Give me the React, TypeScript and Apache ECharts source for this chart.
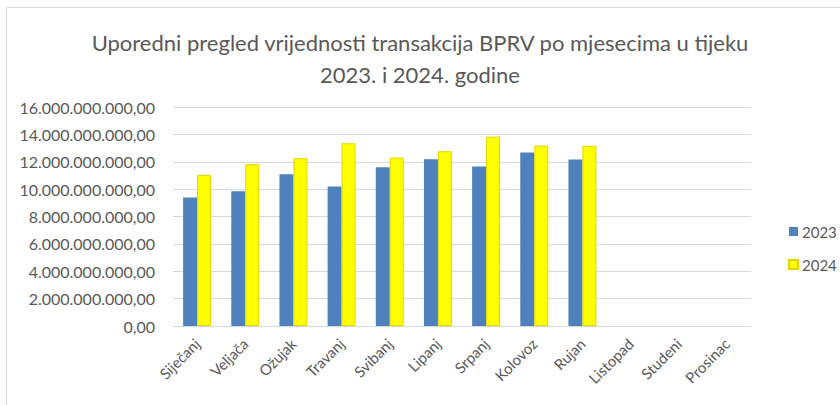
import React, { useEffect, useRef } from "react";
import * as echarts from "echarts";

const months = ["Siječanj", "Veljača", "Ožujak", "Travanj", "Svibanj", "Lipanj", "Srpanj", "Kolovoz", "Rujan", "Listopad", "Studeni", "Prosinac"];
const values2023: (number | null)[] = [9.39e9, 9.85e9, 11.09e9, 10.19e9, 11.6e9, 12.18e9, 11.65e9, 12.67e9, 12.16e9, null, null, null];
const values2024: (number | null)[] = [11.04e9, 11.82e9, 12.26e9, 13.35e9, 12.31e9, 12.77e9, 13.84e9, 13.18e9, 13.16e9, null, null, null];
const titleText = "Uporedni pregled vrijednosti transakcija BPRV po mjesecima u tijeku\n2023. i 2024. godine";

const FONT = "Lato";
const TEXT = "#595959";

function fmt(v: number): string {
  const s = Math.round(v).toString().replace(/\B(?=(\d{3})+(?!\d))/g, ".");
  return s + ",00";
}

export default function App() {
  const ref = useRef<HTMLDivElement>(null);
  useEffect(() => {
    if (!ref.current) return;
    const chart = echarts.init(ref.current, null, { renderer: "svg" });
    chart.setOption({
      animation: false,
      backgroundColor: "#ffffff",
      textStyle: { fontFamily: FONT, color: TEXT },
      title: {
        text: titleText,
        left: "center",
        top: 21,
        textStyle: { fontFamily: FONT, fontSize: 22, fontWeight: "normal", color: TEXT, lineHeight: 32 },
      },
      legend: {
        orient: "vertical",
        left: 783,
        top: 219,
        itemWidth: 9,
        itemHeight: 9,
        itemGap: 18,
        icon: "rect",
        textStyle: { fontFamily: FONT, fontSize: 15, color: TEXT, padding: [0, 0, 0, -1] },
        data: ["2023", "2024"],
      },
      grid: { left: 173, right: 89, top: 107, bottom: 79, containLabel: false },
      xAxis: {
        type: "category",
        data: months,
        boundaryGap: true,
        axisLine: { lineStyle: { color: "#D9D9D9", width: 1 } },
        axisTick: { show: false },
        axisLabel: { rotate: 45, fontFamily: FONT, fontSize: 15, color: TEXT, margin: 15, interval: 0 },
      },
      yAxis: {
        type: "value",
        min: 0,
        max: 16e9,
        interval: 2e9,
        axisLine: { show: false },
        axisTick: { show: false },
        splitLine: { lineStyle: { color: "#D9D9D9", width: 1 } },
        axisLabel: { formatter: (v: number) => fmt(v), fontFamily: FONT, fontSize: 16, color: TEXT, margin: 18 },
      },
      series: [
        {
          name: "2023",
          type: "bar",
          data: values2023,
          barGap: "0%",
          barCategoryGap: "42%",
          itemStyle: { color: "#4F81BD" },
        },
        {
          name: "2024",
          type: "bar",
          data: values2024,
          itemStyle: { color: "#FFFF00", borderColor: "#E2D400", borderWidth: 1 },
        },
      ],
      graphic: [
        { type: "line", shape: { x1: 6.5, y1: 7.5, x2: 840, y2: 7.5 }, style: { stroke: "#D9D9D9", lineWidth: 1 } },
        { type: "line", shape: { x1: 6.5, y1: 7.5, x2: 6.5, y2: 405 }, style: { stroke: "#D9D9D9", lineWidth: 1 } },
      ],
    });
    return () => chart.dispose();
  }, []);
  return <div ref={ref} style={{ position: "fixed", left: 0, top: 0, width: 840, height: 405 }} />;
}
